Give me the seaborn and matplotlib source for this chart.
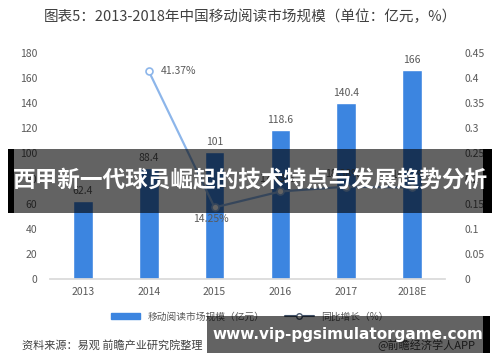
import matplotlib
matplotlib.use("Agg")
import matplotlib.pyplot as plt
import seaborn as sns
import pandas as pd
import numpy as np
from matplotlib.patches import Rectangle
from matplotlib.lines import Line2D
from matplotlib.patches import Patch

sns.set_theme(style="white")
plt.rcParams['font.family'] = ['Noto Sans CJK SC', 'DejaVu Sans']

years = ["2013", "2014", "2015", "2016", "2017", "2018E"]
market = [62.4, 88.4, 101, 118.6, 140.4, 166]
growth = [np.nan, 0.4137, 0.1425, 0.1743, 0.1838, 0.1823]
market_labels = ["62.4", "88.4", "101", "118.6", "140.4", "166"]
growth_labels = ["", "41.37%", "14.25%", "17.43%", "18.38%", "18.23%"]
left_ticks = [0, 20, 40, 60, 80, 100, 120, 140, 160, 180]
right_ticks = [0, 0.05, 0.1, 0.15, 0.2, 0.25, 0.3, 0.35, 0.4, 0.45]
right_ticklabels = ["0", "0.05", "0.1", "0.15", "0.2", "0.25", "0.3", "0.35", "0.4", "0.45"]

df = pd.DataFrame({"year": years, "market": market, "growth": growth})

bar_color = "#3C85E0"
line_color = "#8DB6EA"
tick_color = "#595959"

fig = plt.figure(figsize=(5.0, 3.62), dpi=100)
ax = fig.add_axes([0.10, 0.229, 0.79, 0.625])
sns.barplot(data=df, x="year", y="market", color=bar_color, width=0.3,
            saturation=1, ax=ax)
ax.set_ylim(0, 180)
ax.set_yticks(left_ticks)
ax.set_yticklabels([str(t) for t in left_ticks])
ax.set_xlabel("")
ax.set_ylabel("")
for s in ["top", "right", "left"]:
    ax.spines[s].set_visible(False)
ax.spines["bottom"].set_color("#D9D9D9")
ax.tick_params(axis="both", length=0, labelsize=7.5, labelcolor=tick_color)
ax.tick_params(axis="y", pad=9)
ax.tick_params(axis="x", pad=6)
for i, (v, lab) in enumerate(zip(market, market_labels)):
    ax.text(i, v + 4, lab, ha="center", va="bottom", fontsize=7.5, color=tick_color)

ax2 = ax.twinx()
ax2.plot(range(len(years)), growth, color=line_color, lw=1.6,
         marker="o", markersize=5, markerfacecolor="white",
         markeredgecolor=line_color, markeredgewidth=1.2)
ax2.set_ylim(0, 0.45)
ax2.set_yticks(right_ticks)
ax2.set_yticklabels(right_ticklabels)
for s in ["top", "right", "left", "bottom"]:
    ax2.spines[s].set_visible(False)
ax2.tick_params(axis="y", length=0, labelsize=7.5, labelcolor=tick_color, pad=14)
ax2.set_xlim(-0.5, 5.5)
ax.set_xlim(-0.5, 5.5)
for i, lab in enumerate(growth_labels):
    if not lab:
        continue
    if i == 2:
        ax2.text(i - 0.05, growth[i] - 0.022, lab, ha="center", va="center",
                 fontsize=7.5, color=tick_color)
    elif i == 1:
        ax2.text(i + 0.18, growth[i], lab, ha="left", va="center",
                 fontsize=7.5, color=tick_color)
    else:
        ax2.text(i - 0.05, growth[i] + 0.015, lab, ha="center", va="bottom",
                 fontsize=7.5, color=tick_color)

# title
fig.text(0.5, 0.955, "图表5：2013-2018年中国移动阅读市场规模（单位：亿元，%）",
         ha="center", va="center", fontsize=10.5, color="#404040")

# legend
handles = [Patch(facecolor=bar_color, edgecolor=bar_color),
           Line2D([0], [0], color="#44546A", lw=1.5, marker="o", markersize=4,
                  markerfacecolor="white", markeredgecolor="#44546A")]
fig.legend(handles, ["移动阅读市场规模（亿元）", "同比增长（%）"],
           loc="center", bbox_to_anchor=(0.5, 0.125), ncol=2, frameon=False,
           fontsize=7, labelcolor=tick_color, handlelength=3, handleheight=0.6,
           columnspacing=2.0)

# source
fig.text(0.045, 0.045, "资料来源：易观 前瞻产业研究院整理", ha="left", va="center",
         fontsize=8, color="#404040", style="italic")
fig.text(0.95, 0.045, "@前瞻经济学人APP", ha="right", va="center",
         fontsize=8, color="#404040")

# overlay banner
fig.patches.append(Rectangle((0.016, 1 - 213/362), 0.968, 64/362,
                             transform=fig.transFigure, facecolor="black",
                             alpha=0.61, zorder=10, edgecolor="none"))
fig.patches.append(Rectangle((0.016, 1 - 213/362), 0.012, 64/362,
                             transform=fig.transFigure, facecolor="black",
                             zorder=11, edgecolor="none"))
fig.patches.append(Rectangle((0.966, 1 - 213/362), 0.018, 64/362,
                             transform=fig.transFigure, facecolor="black",
                             zorder=11, edgecolor="none"))
fig.text(0.5, 1 - 181/362, "西甲新一代球员崛起的技术特点与发展趋势分析",
         ha="center", va="center", fontsize=16.3, color="white",
         fontweight="bold", zorder=12)

# bottom banner
fig.patches.append(Rectangle((0.413, 1 - 353/362), 0.567, 37/362,
                             transform=fig.transFigure, facecolor="black",
                             alpha=0.61, zorder=10, edgecolor="none"))
fig.patches.append(Rectangle((0.966, 1 - 353/362), 0.014, 37/362,
                             transform=fig.transFigure, facecolor="black",
                             zorder=11, edgecolor="none"))
fig.text(0.695, 1 - 334/362, "www.vip-pgsimulatorgame.com",
         ha="center", va="center", fontsize=11, color="white",
         fontweight="bold", family=["DejaVu Sans"], zorder=12)

fig.savefig("out.png", dpi=100)
